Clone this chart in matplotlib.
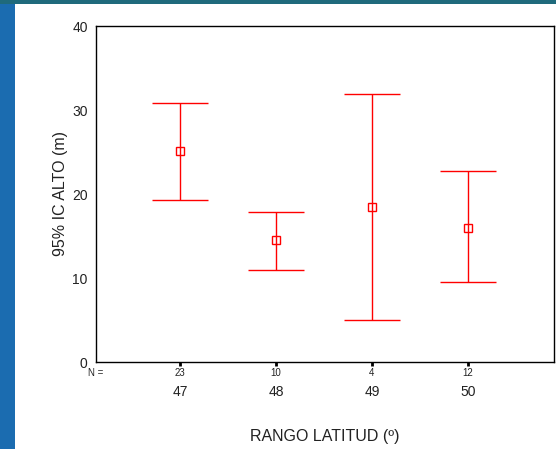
import numpy as np
import matplotlib.pyplot as plt
from matplotlib.patches import Rectangle

plt.rcParams['font.family'] = ['Liberation Sans', 'DejaVu Sans']

# data
grupos = ['47', '48', '49', '50']
n_casos = ['23', '10', '4', '12']
media = [25.1, 14.5, 18.5, 16.0]
ic_bajo = [19.25, 11.0, 5.0, 9.5]
ic_alto = [30.8, 17.8, 31.9, 22.75]

txt = '#222222'

fig = plt.figure(figsize=(5.56, 4.49), dpi=100)
fig.patch.set_facecolor('#1b6cb0')
# top strip is more teal
fig.add_artist(Rectangle((0, 1 - 4 / 449), 1, 4 / 449, transform=fig.transFigure,
                         facecolor='#1f6a7c', edgecolor='none', zorder=0))
fig.add_artist(Rectangle((15 / 556, 0), 1, 1 - 4 / 449, transform=fig.transFigure,
                         facecolor='white', edgecolor='none', zorder=0))

ax = fig.add_axes([96 / 556, 1 - 362 / 449, 458 / 556, 336 / 449])
ax.set_facecolor('white')

x = np.arange(1, len(grupos) + 1)
media = np.array(media)
yerr = [media - np.array(ic_bajo), np.array(ic_alto) - media]
ax.errorbar(x, media, yerr=yerr, fmt='s', color='#ff0000', mfc='none', mec='#ff0000',
            ms=5.5, mew=1, elinewidth=1, capsize=20, capthick=1)

ax.set_xlim(0.125, 4.896)
ax.set_ylim(0, 40)
ax.set_yticks([0, 10, 20, 30, 40])
ax.tick_params(axis='y', length=0, labelsize=10, pad=6, labelcolor=txt)
ax.set_xticks(x)
ax.set_xticklabels([])
ax.tick_params(axis='x', length=3, width=2, direction='out', color='black')
for s in ax.spines.values():
    s.set_linewidth(1)
    s.set_color('black')

# N row and group labels
for xi, n, g in zip(x, n_casos, grupos):
    ax.annotate(n, (xi, 0), xycoords=('data', 'axes fraction'), xytext=(0, -11),
                textcoords='offset pixels', ha='center', va='center', fontsize=7, color=txt)
    ax.annotate(g, (xi, 0), xycoords=('data', 'axes fraction'), xytext=(0, -30),
                textcoords='offset pixels', ha='center', va='center', fontsize=10, color=txt)
ax.annotate('N =', (0, 0), xycoords='axes fraction', xytext=(0, -11),
            textcoords='offset pixels', ha='center', va='center', fontsize=7, color=txt)

ax.set_ylabel('95% IC ALTO (m)', fontsize=11.5, labelpad=3, color=txt)
ax.set_xlabel('RANGO LATITUD (º)', fontsize=11.5, labelpad=41.5, color=txt)

plt.savefig('out.png', dpi=100, facecolor=fig.get_facecolor())
